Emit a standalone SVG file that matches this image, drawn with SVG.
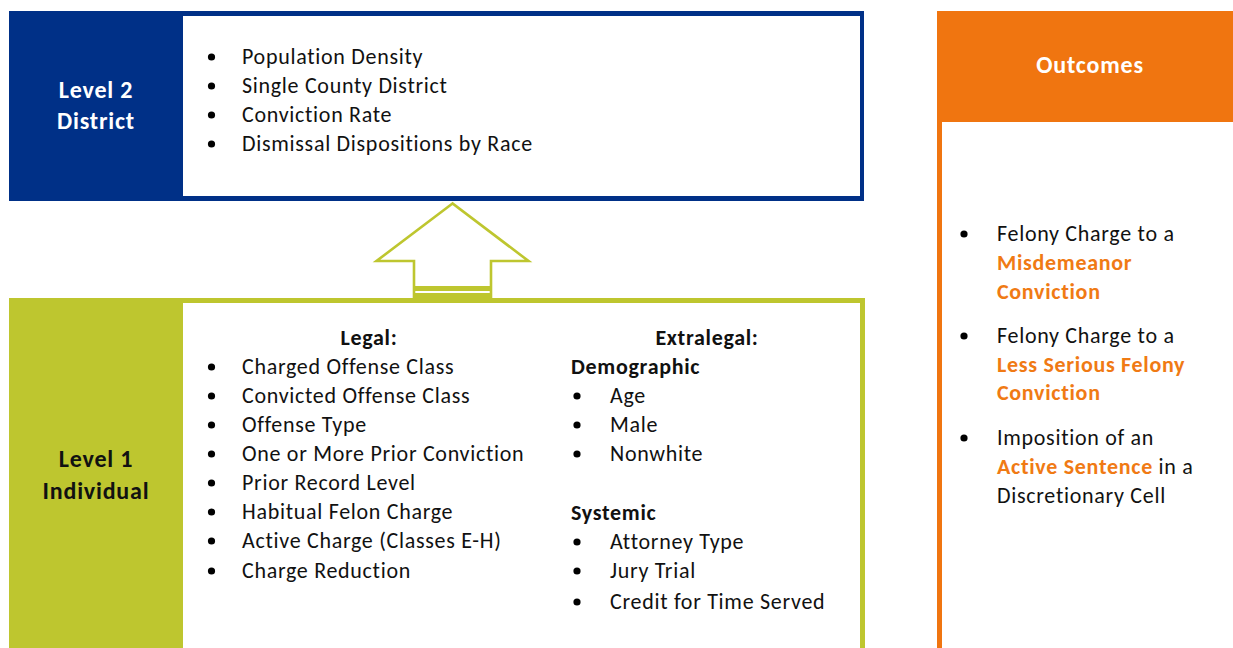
<svg xmlns="http://www.w3.org/2000/svg" width="1233" height="648" viewBox="0 0 1233 648">
<style>
text{font-family:Carlito,Lato,"Liberation Sans",sans-serif;}
.t{font-size:22px;fill:#111;letter-spacing:0.7px;}
.b{font-size:22px;font-weight:bold;fill:#111;letter-spacing:0.7px;}
.h{font-size:24px;font-weight:bold;fill:#fff;text-anchor:middle;letter-spacing:0.8px;}
.hk{font-size:24px;font-weight:bold;fill:#111;text-anchor:middle;letter-spacing:0.8px;}
.o{font-weight:bold;fill:#F07A14;}
.dot{fill:#000;}
</style>
<rect width="1233" height="648" fill="#fff"/>
<g id="level2">
<rect x="9" y="11" width="855" height="190" fill="#003087"/>
<rect x="183" y="16" width="677" height="180" fill="#fff"/>
<text class="h" x="96" y="98">Level 2</text>
<text class="h" x="96" y="129">District</text>
<circle class="dot" cx="211.5" cy="57" r="3.6"/>
<circle class="dot" cx="211.5" cy="86" r="3.6"/>
<circle class="dot" cx="211.5" cy="115" r="3.6"/>
<circle class="dot" cx="211.5" cy="144" r="3.6"/>
<text class="t" x="242" y="64">Population Density</text>
<text class="t" x="242" y="93">Single County District</text>
<text class="t" x="242" y="122">Conviction Rate</text>
<text class="t" x="242" y="151">Dismissal Dispositions by Race</text>
</g>
<g id="level1">
<rect x="9" y="298" width="856" height="360" fill="#BEC62F"/>
<rect x="183" y="303" width="677" height="350" fill="#fff"/>
<text class="hk" x="96" y="467">Level 1</text>
<text class="hk" x="96" y="499">Individual</text>
<text class="b" x="369" y="345" text-anchor="middle">Legal:</text>
<g>
<circle class="dot" cx="211.5" cy="367" r="3.6"/>
<circle class="dot" cx="211.5" cy="396" r="3.6"/>
<circle class="dot" cx="211.5" cy="425" r="3.6"/>
<circle class="dot" cx="211.5" cy="454" r="3.6"/>
<circle class="dot" cx="211.5" cy="483" r="3.6"/>
<circle class="dot" cx="211.5" cy="512" r="3.6"/>
<circle class="dot" cx="211.5" cy="541" r="3.6"/>
<circle class="dot" cx="211.5" cy="571" r="3.6"/>
</g>
<text class="t" x="242" y="374">Charged Offense Class</text>
<text class="t" x="242" y="403">Convicted Offense Class</text>
<text class="t" x="242" y="432">Offense Type</text>
<text class="t" x="242" y="461">One or More Prior Conviction</text>
<text class="t" x="242" y="490">Prior Record Level</text>
<text class="t" x="242" y="519">Habitual Felon Charge</text>
<text class="t" x="242" y="548">Active Charge (Classes E-H)</text>
<text class="t" x="242" y="578">Charge Reduction</text>
<text class="b" x="707" y="345" text-anchor="middle">Extralegal:</text>
<text class="b" x="571" y="374">Demographic</text>
<circle class="dot" cx="577" cy="396" r="3.6"/>
<circle class="dot" cx="577" cy="425" r="3.6"/>
<circle class="dot" cx="577" cy="454" r="3.6"/>
<text class="t" x="610" y="403">Age</text>
<text class="t" x="610" y="432">Male</text>
<text class="t" x="610" y="461">Nonwhite</text>
<text class="b" x="571" y="520">Systemic</text>
<circle class="dot" cx="577" cy="542" r="3.6"/>
<circle class="dot" cx="577" cy="571" r="3.6"/>
<circle class="dot" cx="577" cy="602" r="3.6"/>
<text class="t" x="610" y="549">Attorney Type</text>
<text class="t" x="610" y="578">Jury Trial</text>
<text class="t" x="610" y="609">Credit for Time Served</text>
</g>
<g id="connectors">
<polygon points="452.5,203.5 376.5,261 414,261 414,297 491,297 491,261 528.5,261" fill="#fff" stroke="#BEC62F" stroke-width="2.6" stroke-linejoin="miter"/>
<rect x="413" y="286" width="79" height="5" fill="#BEC62F"/>
<rect x="413" y="293" width="79" height="6" fill="#BEC62F"/>
</g>
<g id="outcomes">
<rect x="937" y="11" width="296" height="111" fill="#F07510"/>
<rect x="937" y="122" width="5" height="526" fill="#F07510"/>
<text class="h" x="1090" y="73">Outcomes</text>
<circle class="dot" cx="964" cy="234" r="3.6"/>
<circle class="dot" cx="964" cy="336" r="3.6"/>
<circle class="dot" cx="964" cy="438" r="3.6"/>
<text class="t" x="997" y="241">Felony Charge to a</text>
<text class="t o" x="997" y="270">Misdemeanor</text>
<text class="t o" x="997" y="299">Conviction</text>
<text class="t" x="997" y="343">Felony Charge to a</text>
<text class="t o" x="997" y="372">Less Serious Felony</text>
<text class="t o" x="997" y="400">Conviction</text>
<text class="t" x="997" y="445">Imposition of an</text>
<text class="t" x="997" y="474"><tspan class="o">Active Sentence</tspan> in a</text>
<text class="t" x="997" y="503">Discretionary Cell</text>
</g>
</svg>
